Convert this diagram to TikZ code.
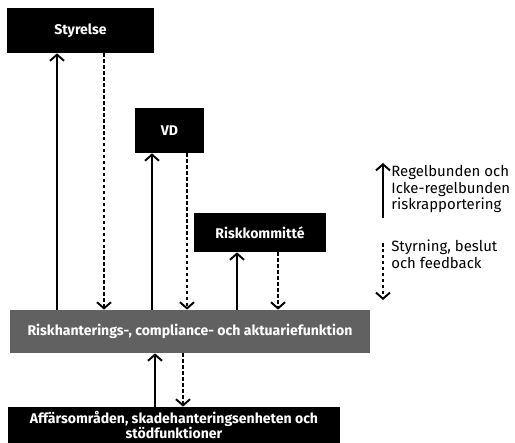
\documentclass[tikz,border=0pt]{standalone}
\usepackage{fontspec}
\setmainfont{Fira Sans}
\usetikzlibrary{arrows.meta}
\tikzset{
	box/.style={fill=black, text=white, font=\bfseries\fontsize{8}{8.5}\selectfont, inner sep=0pt, align=center},
	greybox/.style={box, fill=black!62},
	rep/.style={line width=1.1pt, -{Straight Barb[length=3.5pt,width=8pt,line width=1.1pt]}},
	ctl/.style={line width=1.1pt, dash pattern=on 2pt off 1.4pt, -{Straight Barb[length=3.5pt,width=8pt,line width=1.1pt]}}
}
\begin{document}
\begin{tikzpicture}[x=0.02cm, y=-0.02cm, line join=round, >=stealth]
					\useasboundingbox (0,0) rectangle (515,443);
					\node[box, minimum width=2.94cm, minimum height=0.9cm] (styr) at (80.5,30.5) {Styrelse};
					\node[box, minimum width=1.38cm, minimum height=0.9cm] (vd) at (169.5,130.5) {VD};
					\node[box, minimum width=2.64cm, minimum height=0.78cm] (kom) at (260,232.5) {Riskkommitté};
					\node[greybox, minimum width=7.2cm, minimum height=0.86cm] (funk) at (190,331.5) {Riskhanterings-, compliance- och aktuariefunktion};
					\node[box, minimum width=6.64cm, minimum height=0.72cm] (aff) at (174,425) {Affärsområden, skadehanteringsenheten och\\stödfunktioner};
					\coordinate (s1) at (57,0);
					\coordinate (s2) at (104,0);
					\coordinate (v1) at (152,0);
					\coordinate (v2) at (187,0);
					\coordinate (k1) at (237,0);
					\coordinate (k2) at (278,0);
					\coordinate (a1) at (155,0);
					\coordinate (a2) at (183,0);
					\draw[rep] (funk.north -| s1) -- (styr.south -| s1);
					\draw[ctl] (styr.south -| s2) -- (funk.north -| s2);
					\draw[rep] (funk.north -| v1) -- (vd.south -| v1);
					\draw[ctl] (vd.south -| v2) -- (funk.north -| v2);
					\draw[rep] (funk.north -| k1) -- (kom.south -| k1);
					\draw[ctl] (kom.south -| k2) -- (funk.north -| k2);
					\draw[rep] (aff.north -| a1) -- (funk.south -| a1);
					\draw[ctl] (funk.south -| a2) -- (aff.north -| a2);
					% legend
					\coordinate (L1) at (383,218);
					\coordinate (L2) at (383,163);
					\coordinate (L3) at (383,243);
					\coordinate (L4) at (383,300);
					\draw[rep, line width=0.9pt] (L1) -- (L2);
					\draw[ctl, line width=0.9pt] (L3) -- (L4);
					\node[anchor=west, align=left, font=\fontsize{8.5}{9.5}\selectfont, inner sep=0pt] (rep) at (391,189) {Regelbunden och\\Icke-regelbunden\\riskrapportering};
					\node[anchor=west, align=left, font=\fontsize{8.5}{9.5}\selectfont, inner sep=0pt] (ctl) at (391,254) {Styrning, beslut\\och feedback};
				\end{tikzpicture}
\end{document}
